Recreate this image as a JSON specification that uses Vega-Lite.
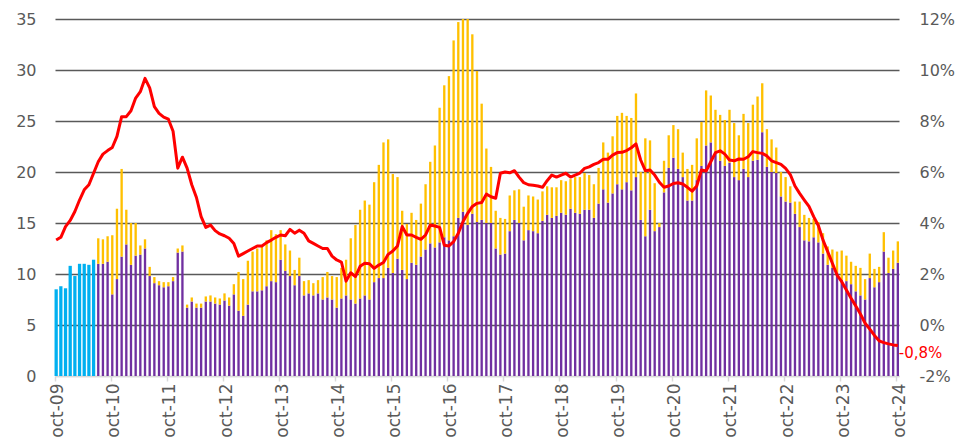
{
"$schema": "https://vega.github.io/schema/vega-lite/v6.json",
"width": 844, "height": 357,
"autosize": {"type": "none"},
"padding": {"left": 55, "top": 19, "right": 58, "bottom": 64},
"background": "white",
"config": {"view": {"stroke": null}, "font": "DejaVu Sans"},
"data": {"values": [
{"m":"2009-10","blue":8.5,"rate":3.33},
{"m":"2009-11","blue":8.8,"rate":3.44},
{"m":"2009-12","blue":8.6,"rate":3.86},
{"m":"2010-01","blue":10.8,"rate":4.1},
{"m":"2010-02","blue":9.8,"rate":4.45},
{"m":"2010-03","blue":11.0,"rate":4.9},
{"m":"2010-04","blue":11.0,"rate":5.3},
{"m":"2010-05","blue":10.9,"rate":5.5},
{"m":"2010-06","blue":11.4,"rate":5.95},
{"m":"2010-07","purple":11.0,"yellow":2.5,"rate":6.4},
{"m":"2010-08","purple":11.0,"yellow":2.4,"rate":6.7},
{"m":"2010-09","purple":11.2,"yellow":2.5,"rate":6.84},
{"m":"2010-10","purple":8.0,"yellow":5.8,"rate":6.96},
{"m":"2010-11","purple":9.5,"yellow":6.9,"rate":7.4},
{"m":"2010-12","purple":11.7,"yellow":8.6,"rate":8.17},
{"m":"2011-01","purple":12.9,"yellow":3.4,"rate":8.17},
{"m":"2011-02","purple":10.9,"yellow":4.1,"rate":8.4},
{"m":"2011-03","purple":11.8,"yellow":3.2,"rate":8.9},
{"m":"2011-04","purple":11.9,"yellow":0.9,"rate":9.15},
{"m":"2011-05","purple":12.5,"yellow":0.9,"rate":9.67},
{"m":"2011-06","purple":9.8,"yellow":0.9,"rate":9.3},
{"m":"2011-07","purple":9.1,"yellow":0.6,"rate":8.56},
{"m":"2011-08","purple":8.9,"yellow":0.4,"rate":8.3},
{"m":"2011-09","purple":8.7,"yellow":0.5,"rate":8.15},
{"m":"2011-10","purple":8.8,"yellow":0.4,"rate":8.07},
{"m":"2011-11","purple":9.3,"yellow":0.4,"rate":7.6},
{"m":"2011-12","purple":12.1,"yellow":0.4,"rate":6.15},
{"m":"2012-01","purple":12.2,"yellow":0.6,"rate":6.58},
{"m":"2012-02","purple":6.7,"yellow":0.3,"rate":6.15},
{"m":"2012-03","purple":7.3,"yellow":0.4,"rate":5.5},
{"m":"2012-04","purple":6.7,"yellow":0.4,"rate":5.0},
{"m":"2012-05","purple":6.7,"yellow":0.4,"rate":4.25},
{"m":"2012-06","purple":7.3,"yellow":0.5,"rate":3.83},
{"m":"2012-07","purple":7.3,"yellow":0.6,"rate":3.92},
{"m":"2012-08","purple":7.1,"yellow":0.6,"rate":3.7},
{"m":"2012-09","purple":7.0,"yellow":0.6,"rate":3.57},
{"m":"2012-10","purple":7.4,"yellow":0.7,"rate":3.5},
{"m":"2012-11","purple":6.9,"yellow":0.8,"rate":3.4},
{"m":"2012-12","purple":8.0,"yellow":1.0,"rate":3.2},
{"m":"2013-01","purple":6.4,"yellow":3.8,"rate":2.7},
{"m":"2013-02","purple":5.9,"yellow":3.6,"rate":2.8},
{"m":"2013-03","purple":7.0,"yellow":4.3,"rate":2.9},
{"m":"2013-04","purple":8.3,"yellow":3.9,"rate":3.0},
{"m":"2013-05","purple":8.3,"yellow":4.2,"rate":3.1},
{"m":"2013-06","purple":8.4,"yellow":4.3,"rate":3.1},
{"m":"2013-07","purple":8.8,"yellow":4.5,"rate":3.23},
{"m":"2013-08","purple":9.3,"yellow":5.0,"rate":3.33},
{"m":"2013-09","purple":9.2,"yellow":4.7,"rate":3.44},
{"m":"2013-10","purple":11.4,"yellow":2.9,"rate":3.53},
{"m":"2013-11","purple":10.3,"yellow":2.6,"rate":3.5},
{"m":"2013-12","purple":9.8,"yellow":2.5,"rate":3.75},
{"m":"2014-01","purple":8.9,"yellow":1.5,"rate":3.6},
{"m":"2014-02","purple":9.8,"yellow":1.8,"rate":3.72},
{"m":"2014-03","purple":7.9,"yellow":1.4,"rate":3.6},
{"m":"2014-04","purple":8.1,"yellow":1.3,"rate":3.3},
{"m":"2014-05","purple":7.9,"yellow":1.2,"rate":3.2},
{"m":"2014-06","purple":8.1,"yellow":1.3,"rate":3.1},
{"m":"2014-07","purple":7.5,"yellow":2.2,"rate":3.0},
{"m":"2014-08","purple":7.7,"yellow":2.5,"rate":3.0},
{"m":"2014-09","purple":7.5,"yellow":2.3,"rate":2.7},
{"m":"2014-10","purple":6.7,"yellow":3.0,"rate":2.55},
{"m":"2014-11","purple":7.6,"yellow":3.0,"rate":2.47},
{"m":"2014-12","purple":7.9,"yellow":3.5,"rate":1.72},
{"m":"2015-01","purple":7.5,"yellow":6.0,"rate":2.05},
{"m":"2015-02","purple":7.1,"yellow":7.7,"rate":1.9},
{"m":"2015-03","purple":7.6,"yellow":8.7,"rate":2.3},
{"m":"2015-04","purple":7.9,"yellow":9.3,"rate":2.42},
{"m":"2015-05","purple":7.5,"yellow":9.3,"rate":2.4},
{"m":"2015-06","purple":9.2,"yellow":9.8,"rate":2.22},
{"m":"2015-07","purple":9.6,"yellow":11.1,"rate":2.35},
{"m":"2015-08","purple":9.6,"yellow":13.3,"rate":2.45},
{"m":"2015-09","purple":10.6,"yellow":12.6,"rate":2.77},
{"m":"2015-10","purple":10.1,"yellow":9.7,"rate":2.9},
{"m":"2015-11","purple":11.5,"yellow":8.0,"rate":3.1},
{"m":"2015-12","purple":10.4,"yellow":5.8,"rate":3.86},
{"m":"2016-01","purple":9.5,"yellow":5.4,"rate":3.53},
{"m":"2016-02","purple":11.1,"yellow":4.9,"rate":3.53},
{"m":"2016-03","purple":10.9,"yellow":4.4,"rate":3.44},
{"m":"2016-04","purple":11.7,"yellow":5.2,"rate":3.36},
{"m":"2016-05","purple":12.4,"yellow":6.4,"rate":3.53},
{"m":"2016-06","purple":13.0,"yellow":8.0,"rate":3.92},
{"m":"2016-07","purple":12.6,"yellow":10.0,"rate":3.88},
{"m":"2016-08","purple":13.1,"yellow":13.2,"rate":3.83},
{"m":"2016-09","purple":13.6,"yellow":14.9,"rate":3.13},
{"m":"2016-10","purple":13.3,"yellow":16.1,"rate":3.1},
{"m":"2016-11","purple":13.7,"yellow":19.2,"rate":3.27},
{"m":"2016-12","purple":15.5,"yellow":19.2,"rate":3.6},
{"m":"2017-01","purple":16.1,"yellow":18.9,"rate":4.05},
{"m":"2017-02","purple":14.8,"yellow":20.2,"rate":4.38},
{"m":"2017-03","purple":15.9,"yellow":17.6,"rate":4.65},
{"m":"2017-04","purple":15.1,"yellow":14.8,"rate":4.77},
{"m":"2017-05","purple":15.3,"yellow":11.4,"rate":4.8},
{"m":"2017-06","purple":15.0,"yellow":7.3,"rate":5.13},
{"m":"2017-07","purple":15.0,"yellow":5.5,"rate":5.03},
{"m":"2017-08","purple":12.5,"yellow":3.7,"rate":4.97},
{"m":"2017-09","purple":11.9,"yellow":3.6,"rate":5.95},
{"m":"2017-10","purple":12.0,"yellow":3.4,"rate":6.0},
{"m":"2017-11","purple":14.2,"yellow":3.5,"rate":5.97},
{"m":"2017-12","purple":15.3,"yellow":2.9,"rate":6.05},
{"m":"2018-01","purple":15.0,"yellow":3.3,"rate":5.8},
{"m":"2018-02","purple":13.3,"yellow":3.3,"rate":5.58},
{"m":"2018-03","purple":14.3,"yellow":3.4,"rate":5.5},
{"m":"2018-04","purple":14.2,"yellow":3.4,"rate":5.48},
{"m":"2018-05","purple":14.0,"yellow":3.3,"rate":5.45},
{"m":"2018-06","purple":15.2,"yellow":2.9,"rate":5.4},
{"m":"2018-07","purple":15.8,"yellow":2.8,"rate":5.66},
{"m":"2018-08","purple":15.5,"yellow":3.0,"rate":5.88},
{"m":"2018-09","purple":15.7,"yellow":2.8,"rate":5.8},
{"m":"2018-10","purple":16.0,"yellow":3.2,"rate":5.88},
{"m":"2018-11","purple":15.8,"yellow":3.3,"rate":5.95},
{"m":"2018-12","purple":16.4,"yellow":2.9,"rate":5.8},
{"m":"2019-01","purple":16.0,"yellow":3.5,"rate":5.88},
{"m":"2019-02","purple":15.9,"yellow":3.6,"rate":5.96},
{"m":"2019-03","purple":16.3,"yellow":3.6,"rate":6.14},
{"m":"2019-04","purple":16.3,"yellow":3.4,"rate":6.2},
{"m":"2019-05","purple":15.5,"yellow":3.3,"rate":6.3},
{"m":"2019-06","purple":16.9,"yellow":3.5,"rate":6.37},
{"m":"2019-07","purple":18.3,"yellow":4.6,"rate":6.5},
{"m":"2019-08","purple":17.0,"yellow":4.9,"rate":6.5},
{"m":"2019-09","purple":17.9,"yellow":5.6,"rate":6.66},
{"m":"2019-10","purple":18.8,"yellow":6.7,"rate":6.76},
{"m":"2019-11","purple":18.3,"yellow":7.5,"rate":6.77},
{"m":"2019-12","purple":19.0,"yellow":6.5,"rate":6.84},
{"m":"2020-01","purple":18.2,"yellow":7.1,"rate":6.95},
{"m":"2020-02","purple":19.5,"yellow":8.2,"rate":7.1},
{"m":"2020-03","purple":15.3,"yellow":4.7,"rate":6.47},
{"m":"2020-04","purple":13.7,"yellow":9.6,"rate":6.05},
{"m":"2020-05","purple":16.3,"yellow":6.8,"rate":6.08},
{"m":"2020-06","purple":14.2,"yellow":4.7,"rate":5.88},
{"m":"2020-07","purple":14.6,"yellow":0.4,"rate":5.6},
{"m":"2020-08","purple":18.0,"yellow":3.1,"rate":5.4},
{"m":"2020-09","purple":20.4,"yellow":3.2,"rate":5.45},
{"m":"2020-10","purple":21.4,"yellow":3.2,"rate":5.55},
{"m":"2020-11","purple":20.3,"yellow":3.9,"rate":5.58},
{"m":"2020-12","purple":19.5,"yellow":2.4,"rate":5.53},
{"m":"2021-01","purple":17.2,"yellow":3.1,"rate":5.4},
{"m":"2021-02","purple":17.2,"yellow":3.5,"rate":5.25},
{"m":"2021-03","purple":19.2,"yellow":4.1,"rate":5.45},
{"m":"2021-04","purple":20.6,"yellow":4.3,"rate":6.08},
{"m":"2021-05","purple":22.6,"yellow":5.4,"rate":6.04},
{"m":"2021-06","purple":22.9,"yellow":4.6,"rate":6.4},
{"m":"2021-07","purple":22.0,"yellow":4.1,"rate":6.76},
{"m":"2021-08","purple":21.1,"yellow":4.5,"rate":6.83},
{"m":"2021-09","purple":20.6,"yellow":4.5,"rate":6.7},
{"m":"2021-10","purple":20.9,"yellow":5.2,"rate":6.47},
{"m":"2021-11","purple":19.5,"yellow":5.3,"rate":6.44},
{"m":"2021-12","purple":19.2,"yellow":4.4,"rate":6.51},
{"m":"2022-01","purple":20.3,"yellow":5.4,"rate":6.5},
{"m":"2022-02","purple":19.5,"yellow":5.3,"rate":6.6},
{"m":"2022-03","purple":21.1,"yellow":5.5,"rate":6.8},
{"m":"2022-04","purple":21.2,"yellow":6.2,"rate":6.76},
{"m":"2022-05","purple":23.9,"yellow":4.8,"rate":6.73},
{"m":"2022-06","purple":20.5,"yellow":3.7,"rate":6.63},
{"m":"2022-07","purple":20.0,"yellow":3.2,"rate":6.44},
{"m":"2022-08","purple":19.9,"yellow":2.5,"rate":6.37},
{"m":"2022-09","purple":17.6,"yellow":2.4,"rate":6.3},
{"m":"2022-10","purple":17.1,"yellow":2.4,"rate":6.14},
{"m":"2022-11","purple":17.0,"yellow":1.6,"rate":5.9},
{"m":"2022-12","purple":15.9,"yellow":1.2,"rate":5.45},
{"m":"2023-01","purple":14.6,"yellow":2.5,"rate":5.16},
{"m":"2023-02","purple":13.3,"yellow":2.5,"rate":4.9},
{"m":"2023-03","purple":13.2,"yellow":2.3,"rate":4.65},
{"m":"2023-04","purple":13.6,"yellow":1.8,"rate":4.25},
{"m":"2023-05","purple":13.1,"yellow":2.0,"rate":3.9},
{"m":"2023-06","purple":12.0,"yellow":2.0,"rate":3.33},
{"m":"2023-07","purple":10.9,"yellow":1.8,"rate":2.88},
{"m":"2023-08","purple":10.6,"yellow":1.8,"rate":2.42},
{"m":"2023-09","purple":10.1,"yellow":2.1,"rate":1.96},
{"m":"2023-10","purple":9.4,"yellow":2.9,"rate":1.7},
{"m":"2023-11","purple":9.3,"yellow":2.5,"rate":1.37},
{"m":"2023-12","purple":9.0,"yellow":2.2,"rate":1.05},
{"m":"2024-01","purple":8.3,"yellow":2.5,"rate":0.75},
{"m":"2024-02","purple":7.9,"yellow":2.7,"rate":0.43},
{"m":"2024-03","purple":7.5,"yellow":2.0,"rate":0.07},
{"m":"2024-04","purple":9.6,"yellow":2.4,"rate":-0.16},
{"m":"2024-05","purple":8.7,"yellow":1.8,"rate":-0.41},
{"m":"2024-06","purple":9.2,"yellow":1.5,"rate":-0.62},
{"m":"2024-07","purple":12.2,"yellow":1.9,"rate":-0.69},
{"m":"2024-08","purple":10.1,"yellow":1.5,"rate":-0.74},
{"m":"2024-09","purple":10.5,"yellow":1.8,"rate":-0.78},
{"m":"2024-10","purple":11.1,"yellow":2.1,"rate":-0.8}
]},
"encoding": {
  "x": {"field": "m", "type": "ordinal", "sort": "ascending",
    "scale": {"paddingInner": 0.5, "paddingOuter": 0},
    "axis": {"title": null,
      "values": ["2009-10","2010-10","2011-10","2012-10","2013-10","2014-10","2015-10","2016-10","2017-10","2018-10","2019-10","2020-10","2021-10","2022-10","2023-10","2024-10"],
      "labelExpr": "'oct-' + substring(datum.value, 2, 4)",
      "labelAngle": -90, "labelAlign": "right", "labelBaseline": "middle",
      "labelFontSize": 17, "labelColor": "#595959", "labelPadding": 2, "labelOffset": 2,
      "bandPosition": 0, "domainColor": "#d9d9d9", "domainWidth": 1.5,
      "tickColor": "#d9d9d9", "tickSize": 5, "tickWidth": 1.5, "grid": false}}
},
"layer": [
  {"layer": [
    {"transform": [{"fold": ["purple", "yellow"], "as": ["k", "v"]}],
     "mark": {"type": "bar"},
     "encoding": {
       "y": {"field": "v", "type": "quantitative", "stack": "zero",
         "scale": {"domain": [0, 35], "nice": false},
         "axis": {"orient": "left", "title": null, "values": [0,5,10,15,20,25,30,35],
           "grid": true, "gridColor": {"condition": {"test": "datum.value === 0", "value": "#d9d9d9"}, "value": "#595959"},
           "gridWidth": 1.5, "domain": false, "ticks": false, "tickSize": 0, "labelPadding": 19,
           "labelFontSize": 16, "labelColor": "#595959"}},
       "color": {"field": "k", "type": "nominal", "scale": {"domain": ["purple", "yellow"], "range": ["#7030A0", "#FFC000"]}, "legend": null},
       "order": {"field": "k", "sort": "ascending"}
     }},
    {"mark": {"type": "bar", "color": "#00B0F0", "width": {"band": 1.4}},
     "encoding": {"y": {"field": "blue", "type": "quantitative"}}}
  ]},
  {"layer": [
    {"mark": {"type": "line", "color": "#FF0000", "strokeWidth": 3, "strokeJoin": "round"},
     "encoding": {
       "y": {"field": "rate", "type": "quantitative",
         "scale": {"domain": [-2, 12], "nice": false},
         "axis": {"orient": "right", "title": null, "values": [-2,0,2,4,6,8,10,12],
           "labelExpr": "datum.value + '%'", "grid": false, "domain": false, "ticks": false, "tickSize": 0,
           "labelPadding": 20, "labelFontSize": 16, "labelColor": "#595959"}}
     }},
    {"transform": [{"filter": "datum.m === '2024-10'"}],
     "mark": {"type": "text", "color": "#FF0000", "align": "left", "baseline": "middle", "dx": 1, "dy": 8, "fontSize": 15},
     "encoding": {"y": {"field": "rate", "type": "quantitative"}, "text": {"value": "-0,8%"}}}
  ]}
],
"resolve": {"scale": {"y": "independent"}}
}
